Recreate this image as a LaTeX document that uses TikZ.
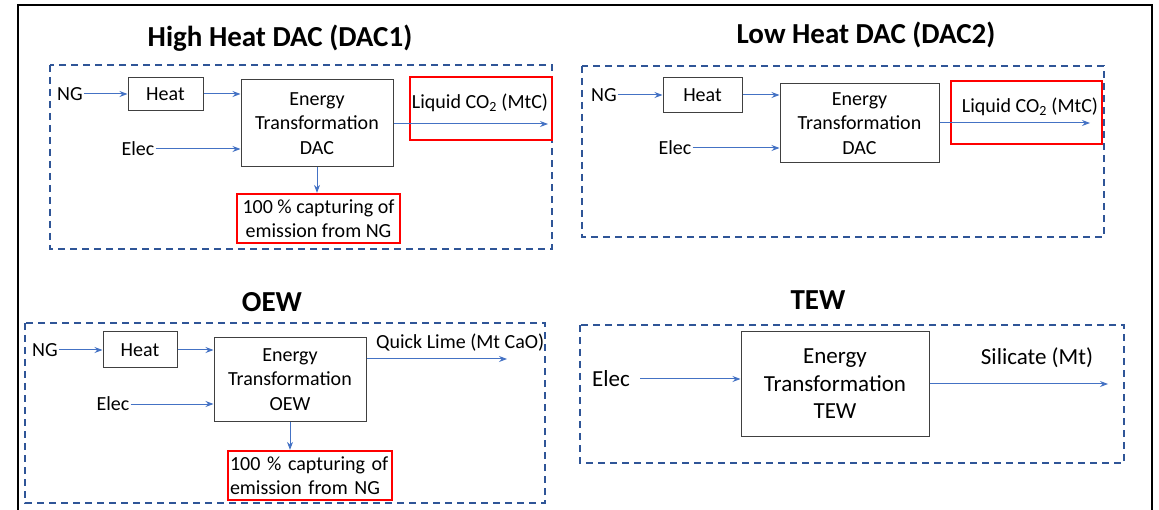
\documentclass[tikz,border=0pt]{standalone}
\usepackage{fontspec}
\setmainfont{Carlito}
\usetikzlibrary{arrows.meta}
\definecolor{flowblue}{HTML}{4472C4}
\definecolor{panelblue}{HTML}{2F5597}
\definecolor{capred}{HTML}{FF0000}
\newcommand{\bodyfont}{\fontsize{20}{24.5}\selectfont}
\newcommand{\bigfont}{\fontsize{23}{27.5}\selectfont}
\newcommand{\titlefont}{\fontsize{29}{34}\selectfont\bfseries}

\begin{document}
\begin{tikzpicture}[x=1pt,y=-1pt,>={Stealth[length=8pt,width=6pt]},
  paneltitle/.style={font=\titlefont, inner sep=0pt},
  lbl/.style={font=\bodyfont, inner sep=1pt},
  procbox/.style={draw=black!75, line width=1pt, font=\bodyfont, align=center, inner sep=0pt},
  capbox/.style={draw=capred, line width=2.2pt, font=\bodyfont, align=center, inner sep=0pt},
  panelframe/.style={draw=panelblue, line width=1.8pt, dash pattern=on 7pt off 5pt},
  flowarrow/.style={->, draw=flowblue, line width=1pt}]
  \useasboundingbox (0,0) rectangle (1159,510);
  % frame
  \draw[line width=2pt] (18,510) -- (18,5) -- (1152,5) -- (1152,510);

  % High Heat DAC (DAC1)
  \node[paneltitle] (t1) at (280,38) {High Heat DAC (DAC1)};
  \draw[panelframe] (50,65) rectangle (552,249);
  \node[lbl] (ng1) at (70,94) {NG};
  \node[procbox, minimum width=75, minimum height=33] (heat1) at (165.5,94) {Heat};
  \node[procbox, minimum width=152, minimum height=87] (et1) at (317,123.5) {Energy\\Transformation\\DAC};
  \node[lbl] (elec1) at (138,149) {Elec};
  \node[capbox, minimum width=142, minimum height=63] (co2box1) at (481,108.5) {};
  \node[lbl] (co2lbl1) at (480,103) {Liquid CO\textsubscript{2} (MtC)};
  \coordinate (out1) at (548,124);
  \node[capbox, minimum width=163, minimum height=49] (cap1) at (318.5,218.5) {100 \% capturing of\\emission from NG};
  \draw[flowarrow] (ng1) -- (ng1 -| heat1.west);
  \draw[flowarrow] (heat1.east) -- (heat1.east -| et1.west);
  \draw[flowarrow] (elec1) -- (elec1 -| et1.west);
  \draw[flowarrow] (et1.east |- out1) -- (out1);
  \draw[flowarrow] (et1.south) -- (et1.south |- cap1.north);

  % Low Heat DAC (DAC2)
  \node[paneltitle] (t2) at (866,35) {Low Heat DAC (DAC2)};
  \draw[panelframe] (582,66) rectangle (1104,237);
  \node[lbl] (ng2) at (604,95) {NG};
  \node[procbox, minimum width=79, minimum height=35] (heat2) at (702.5,95) {Heat};
  \node[procbox, minimum width=159, minimum height=79] (et2) at (859.5,123.5) {Energy\\Transformation\\DAC};
  \node[lbl] (elec2) at (675,148) {Elec};
  \node[capbox, minimum width=151, minimum height=63] (co2box2) at (1026.5,112.5) {};
  \node[lbl] (co2lbl2) at (1030,107) {Liquid CO\textsubscript{2} (MtC)};
  \coordinate (out2) at (1090,123);
  \draw[flowarrow] (ng2) -- (ng2 -| heat2.west);
  \draw[flowarrow] (heat2.east) -- (heat2.east -| et2.west);
  \draw[flowarrow] (elec2) -- (elec2 -| et2.west);
  \draw[flowarrow] (et2.east |- out2) -- (out2);

  % OEW
  \node[paneltitle] (t3) at (272,302) {OEW};
  \draw[panelframe] (25,323) rectangle (545,503);
  \node[lbl] (ng3) at (45,350) {NG};
  \node[procbox, minimum width=74, minimum height=36] (heat3) at (140,350) {Heat};
  \node[procbox, minimum width=152, minimum height=83] (et3) at (290,379.5) {Energy\\Transformation\\OEW};
  \node[lbl] (elec3) at (113,404) {Elec};
  \node[lbl, anchor=west] (lime) at (375,343) {Quick Lime (Mt CaO)};
  \coordinate (out3) at (507,359);
  \node[capbox, minimum width=164, minimum height=49, text width=160, align=left, inner xsep=2pt] (cap3) at (310,475.5) {100 \% capturing of\\emission from NG};
  \draw[flowarrow] (ng3) -- (ng3 -| heat3.west);
  \draw[flowarrow] (heat3.east) -- (heat3.east -| et3.west);
  \draw[flowarrow] (elec3) -- (elec3 -| et3.west);
  \draw[flowarrow] (et3.east |- out3) -- (out3);
  \draw[flowarrow] (et3.south) -- (et3.south |- cap3.north);

  % TEW
  \node[paneltitle] (t4) at (818,300) {TEW};
  \draw[panelframe] (580,325) rectangle (1124,463);
  \node[lbl, font=\bigfont] (elec4) at (611,379) {Elec};
  \node[procbox, font=\bigfont, minimum width=188, minimum height=104] (et4) at (835,384) {Energy\\Transformation\\TEW};
  \node[lbl, font=\bigfont] (silicate) at (1037,358) {Silicate (Mt)};
  \coordinate (out4) at (1108,384);
  \draw[flowarrow, shorten <=9pt] (elec4) -- (elec4 -| et4.west);
  \draw[flowarrow] (et4.east |- out4) -- (out4);
\end{tikzpicture}
\end{document}
